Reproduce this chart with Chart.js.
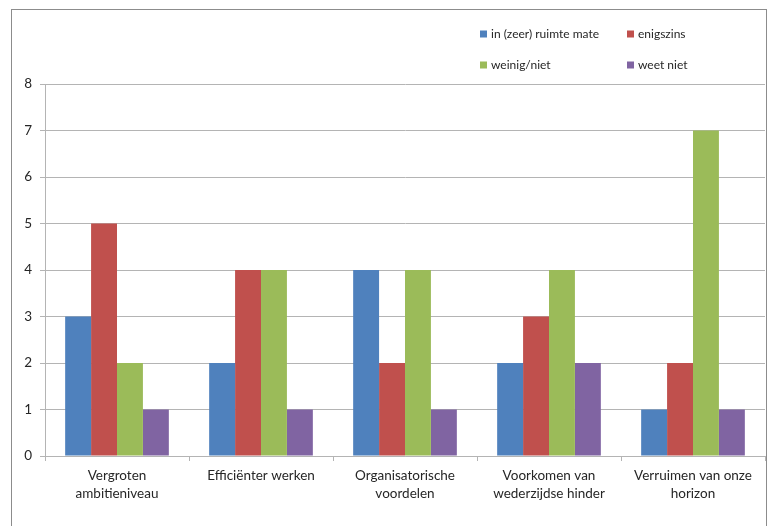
<!DOCTYPE html>
<html>
<head>
<meta charset="utf-8">
<script src="https://cdn.jsdelivr.net/npm/chart.js@4"></script>
<style>
  html, body { margin: 0; padding: 0; background: #fff; }
  #wrap { width: 772px; height: 526px; }
</style>
</head>
<body>
<div id="wrap"><canvas id="chart" width="772" height="526"></canvas></div>
<script>
const categories = [
    ['Vergroten', 'ambitieniveau'],
    ['Efficiënter werken'],
    ['Organisatorische', 'voordelen'],
    ['Voorkomen van', 'wederzijdse hinder'],
    ['Verruimen van onze', 'horizon']
];
const seriesNames = ['in (zeer) ruimte mate', 'enigszins', 'weinig/niet', 'weet niet'];
const seriesColors = ['#4F81BD', '#C0504D', '#9BBB59', '#8064A2'];
const inZeerRuimteMate = [3, 2, 4, 2, 1];
const enigszins = [5, 4, 2, 3, 2];
const weinigNiet = [2, 4, 4, 4, 7];
const weetNiet = [1, 1, 1, 2, 1];
const yTicks = [0, 1, 2, 3, 4, 5, 6, 7, 8];

const textColor = '#262626';
const gridColor = '#b4b4b4';
const fontFamily = 'Lato, "Open Sans", sans-serif';

// frame around the whole chart + 2x2 legend like the original
const framePlugin = {
    id: 'frame',
    afterDraw(chart) {
        const ctx = chart.ctx;
        ctx.save();
        ctx.strokeStyle = '#8c8c8c';
        ctx.lineWidth = 1;
        ctx.strokeRect(11.5, 9.5, 755, 540);

        const cols = [480, 627];
        const rows = [34, 65];
        ctx.font = '12px ' + fontFamily;
        ctx.textBaseline = 'middle';
        chart.data.datasets.forEach((ds, i) => {
            const x = cols[i % 2];
            const y = rows[Math.floor(i / 2)];
            ctx.fillStyle = ds.backgroundColor;
            ctx.fillRect(x, y - 3.5, 7, 7);
            ctx.fillStyle = textColor;
            ctx.fillText(ds.label, x + 11, y);
        });
        ctx.restore();
    }
};

const seriesData = [inZeerRuimteMate, enigszins, weinigNiet, weetNiet];

new Chart(document.getElementById('chart').getContext('2d'), {
    type: 'bar',
    data: {
        labels: categories,
        datasets: seriesData.map((values, i) => ({
            label: seriesNames[i],
            data: values,
            backgroundColor: seriesColors[i],
            borderWidth: 0,
            categoryPercentage: 0.72,
            barPercentage: 1
        }))
    },
    options: {
        responsive: false,
        animation: false,
        layout: {
            padding: { top: 84, right: 7, left: 0, bottom: 0 }
        },
        scales: {
            x: {
                grid: {
                    display: true,
                    drawOnChartArea: false,
                    drawTicks: true,
                    tickLength: 5,
                    color: gridColor,
                    offset: true
                },
                border: { color: gridColor },
                ticks: {
                    color: textColor,
                    font: { family: fontFamily, size: 13.5, lineHeight: 1.3 },
                    padding: 6,
                    maxRotation: 0,
                    autoSkip: false
                },
                afterFit(scale) { scale.height = 70; }
            },
            y: {
                min: 0,
                max: 8,
                afterBuildTicks(scale) {
                    scale.ticks = yTicks.map(v => ({ value: v }));
                },
                grid: {
                    color: gridColor,
                    tickLength: 5
                },
                border: { color: gridColor },
                ticks: {
                    color: textColor,
                    font: { family: fontFamily, size: 13.5 },
                    padding: 8
                },
                afterFit(scale) { scale.width = 45; }
            }
        },
        plugins: {
            legend: { display: false },
            tooltip: { enabled: false }
        }
    },
    plugins: [framePlugin]
});
</script>
</body>
</html>
